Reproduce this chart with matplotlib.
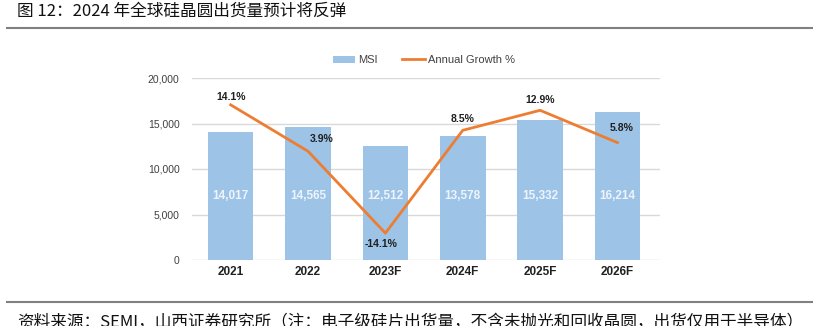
import matplotlib
matplotlib.use("Agg")
import matplotlib.pyplot as plt
from matplotlib.lines import Line2D
from matplotlib.patches import Patch

plt.rcParams['font.family'] = ['Noto Sans CJK SC', 'DejaVu Sans']

categories = ["2021", "2022", "2023F", "2024F", "2025F", "2026F"]
msi = [14017, 14565, 12512, 13578, 15332, 16214]
growth = [14.1, 3.9, -14.1, 8.5, 12.9, 5.8]
growth_labels = ["14.1%", "3.9%", "-14.1%", "8.5%", "12.9%", "5.8%"]
yticks = [0, 5000, 10000, 15000, 20000]

title = "图 12：2024 年全球硅晶圆出货量预计将反弹"
source = "资料来源：SEMI，山西证券研究所（注：电子级硅片出货量，不含未抛光和回收晶圆，出货仅用于半导体）"

W, H = 813, 326
fig = plt.figure(figsize=(W / 100, H / 100), dpi=100)

ax = fig.add_axes([192 / W, 1 - 260 / H, (660 - 192) / W, (260 - 78) / H])
x = list(range(len(categories)))
bar_color = "#9DC3E6"
ax.bar(x, msi, width=0.59, color=bar_color, zorder=2)
ax.set_ylim(0, 20000)
ax.set_xlim(-0.5, 5.55)
ax.set_yticks(yticks)
ax.set_yticklabels([f"{v:,}" for v in yticks], fontsize=7.5, color="#404040",
                   family=['Liberation Sans'])
ax.set_xticks(x)
ax.set_xticklabels(categories, fontsize=8.5, fontweight="bold", color="#202020",
                   family=['Liberation Sans'])
ax.tick_params(axis="both", length=0)
ax.tick_params(axis="y", pad=9)
ax.tick_params(axis="x", pad=4)
ax.grid(axis="y", color="#D9D9D9", linewidth=1, zorder=0)
for s in ax.spines.values():
    s.set_visible(False)

for xi, v in zip(x, msi):
    ax.text(xi, 7000, f"{v:,}", ha="center", va="center", color="#EEF4FB",
            fontsize=8.5, fontweight="bold", family=['Liberation Sans'], zorder=3)

ax2 = ax.twinx()
ax2.set_ylim(-20, 20)
ax2.set_xlim(-0.5, 5.55)
ax2.plot(x, growth, color="#ED7D31", linewidth=2, zorder=4)
ax2.set_yticks([])
for s in ax2.spines.values():
    s.set_visible(False)

offsets = [(0, 8), (0.18, 12), (-0.05, -11), (0.0, 11), (0.0, 10), (0.05, 15)]
for xi, g, lab, (dx, dy) in zip(x, growth, growth_labels, offsets):
    ax2.annotate(lab, (xi, g), xytext=(dx * 77.5, dy), textcoords="offset pixels",
                 ha="center", va="center", fontsize=7.5, fontweight="bold",
                 color="#1F1F1F", family=['Liberation Sans'], zorder=5)

handles = [Patch(facecolor=bar_color, edgecolor="none"),
           Line2D([0], [0], color="#ED7D31", linewidth=2)]
fig.legend(handles, ["MSI", "Annual Growth %"], loc="center",
           bbox_to_anchor=(424 / W, 1 - 60 / H), ncol=2, frameon=False,
           prop={"size": 8, "family": "Liberation Sans"}, labelcolor="#404040",
           handlelength=2.0, handleheight=0.6, columnspacing=2.2, handletextpad=0.3)

fig.text(17 / W, 1 - 11 / H, title, fontsize=12, ha="left", va="center", color="#111111")
fig.add_artist(Line2D([7 / W, 812 / W], [1 - 28 / H, 1 - 28 / H], color="#808080",
                      linewidth=1.5, transform=fig.transFigure))
fig.add_artist(Line2D([7 / W, 812 / W], [1 - 302 / H, 1 - 302 / H], color="#808080",
                      linewidth=1.5, transform=fig.transFigure))
fig.text(17 / W, 1 - 323 / H, source, fontsize=12, ha="left", va="center", color="#111111")

fig.savefig("out.png", dpi=100)
